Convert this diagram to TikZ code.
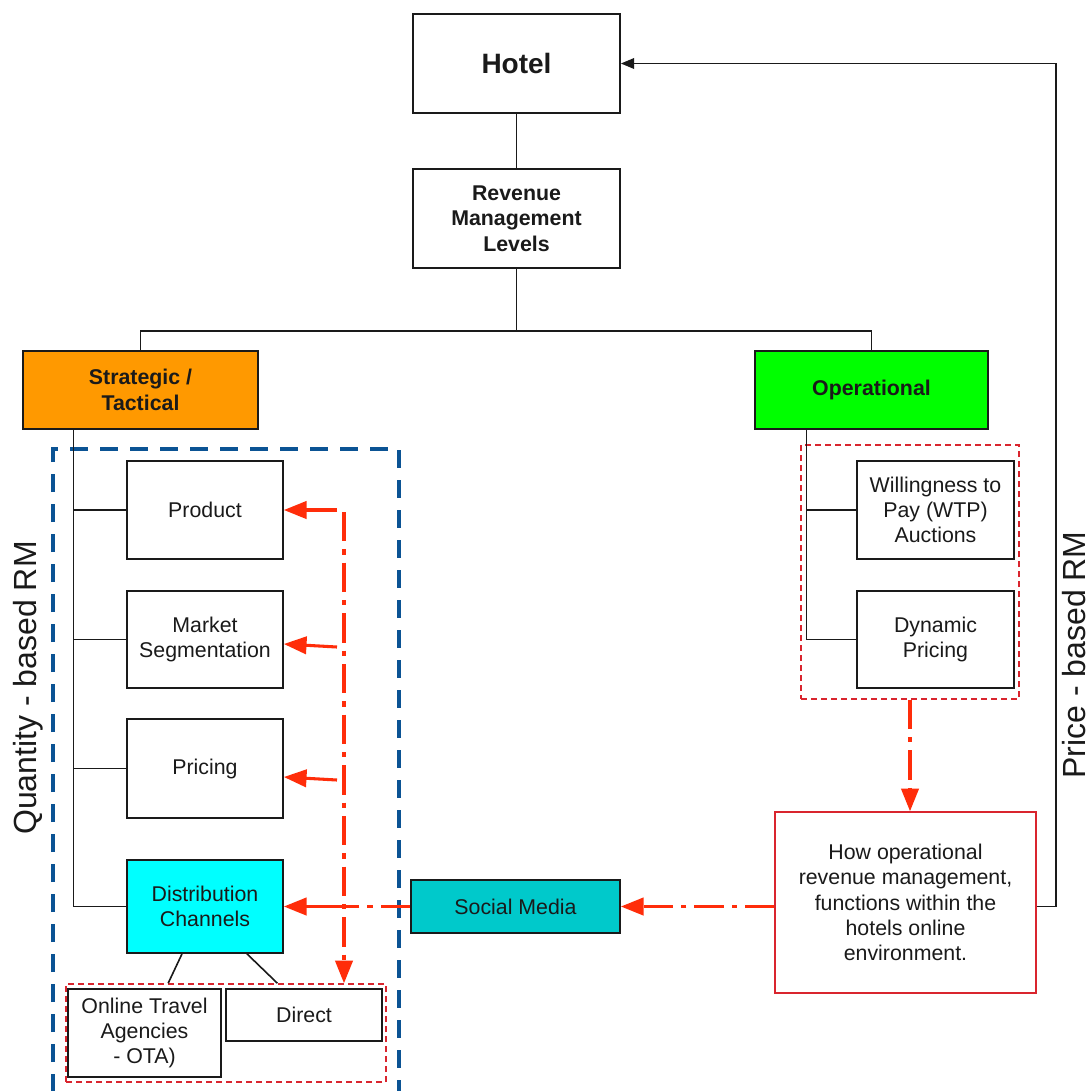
\documentclass[tikz,border=0pt]{standalone}
\usepackage{fontspec}
\setmainfont{Liberation Sans}
\usetikzlibrary{arrows.meta,calc}

\definecolor{ink}{HTML}{1A1A1A}
\definecolor{stratorange}{HTML}{FF9900}
\definecolor{opgreen}{HTML}{00FF00}
\definecolor{distcyan}{HTML}{00FFFF}
\definecolor{socialteal}{HTML}{00C9CB}
\definecolor{flowred}{HTML}{FF2D0A}
\definecolor{groupred}{HTML}{D9252E}
\definecolor{quantblue}{HTML}{0B5394}

\tikzset{
  box/.style={draw=ink, line width=1.3pt, align=center, inner sep=2pt, text=ink,
    font=\fontsize{16}{19}\selectfont},
  boldbox/.style={box, font=\fontsize{16}{19}\selectfont\bfseries},
  groupbox/.style={draw=groupred, line width=1.1pt, dash pattern=on 4.5pt off 3pt},
  link/.style={draw=ink, line width=1.2pt},
  flow/.style={draw=flowred, line width=2.3pt, -{Triangle[length=17pt,width=13pt]}},
  flowdd/.style={draw=flowred, line width=2.3pt,
    dash pattern=on 22pt off 6pt on 4pt off 6pt},
  sidelabel/.style={rotate=90, text=ink, inner sep=0pt, font=\fontsize{24}{28}\selectfont}
}

\begin{document}
\begin{tikzpicture}[x=0.75pt,y=-0.75pt]
\useasboundingbox (0,0) rectangle (1091,1090);
\fill[white] (0,0) rectangle (1091,1090);

% grouping frames
\node[groupbox, minimum width=163.5pt, minimum height=190.5pt] (opgroup) at (910,572) {};
\node[groupbox, minimum width=240pt, minimum height=73.5pt] (channels) at (226,1033) {};
\draw[quantblue, line width=2.6pt, dash pattern=on 13.5pt off 9pt]
  (53,1092) -- (53,449) -- (399,449) -- (399,1092);

% top of the hierarchy
\node[boldbox, minimum width=155.25pt, minimum height=74.25pt,
  font=\fontsize{21}{25}\selectfont\bfseries] (hotel) at (516.5,63.5) {Hotel};
\node[boldbox, minimum width=155.25pt, minimum height=74.25pt] (rml) at (516.5,218.5)
  {Revenue\\Management\\Levels};
\node[boldbox, fill=stratorange, minimum width=176.25pt, minimum height=58.5pt] (strat)
  at (140.5,390) {Strategic /\\Tactical};
\node[boldbox, fill=opgreen, minimum width=174.75pt, minimum height=58.5pt] (oper)
  at (871.5,390) {Operational};

% strategic / tactical branch
\node[box, minimum width=117pt, minimum height=73.5pt] (product) at (205,510) {Product};
\node[box, minimum width=117pt, minimum height=73pt] (market) at (205,639.5) {Market\\Segmentation};
\node[box, minimum width=117pt, minimum height=74pt] (pricing) at (205,768.5) {Pricing};
\node[box, fill=distcyan, minimum width=117pt, minimum height=69.75pt] (dist) at (205,906.5)
  {Distribution\\Channels};
\node[box, minimum width=114.75pt, minimum height=66pt] (ota) at (144.5,1033)
  {Online Travel\\Agencies\\- OTA)};
\node[box, minimum width=117pt, minimum height=39pt] (direct) at (304,1015) {Direct};

% operational branch
\node[box, minimum width=117.75pt, minimum height=73.5pt] (wtp) at (935.5,510)
  {Willingness to\\Pay (WTP)\\Auctions};
\node[box, minimum width=117.75pt, minimum height=72.75pt] (dyn) at (935.5,639.5)
  {Dynamic\\Pricing};
\node[box, draw=groupred, line width=1.1pt, minimum width=195.75pt, minimum height=135.75pt]
  (how) at (905.5,902.5)
  {How operational\\revenue management,\\functions within the\\hotels online\\environment.};
\node[box, fill=socialteal, minimum width=156.75pt, minimum height=39.75pt] (social)
  at (515.5,906.5) {Social Media};

% side labels
\node[sidelabel] (quant) at (28,688) {Quantity - based RM};
\node[sidelabel] (price) at (1074,655) {Price - based RM};

% hierarchy connectors
\coordinate (fork) at (516.5,331);
\draw[link] (hotel.south) -- (rml.north);
\draw[link] (rml.south) -- (fork);
\draw[link] (strat.north) |- (fork) -| (oper.north);

\coordinate (sTop) at ($(strat.south west)!0.217!(strat.south east)$);
\draw[link] (sTop) |- (dist.west);
\foreach \n in {product,market,pricing}
  \draw[link] (sTop |- \n.west) -- (\n.west);

\coordinate (oTop) at ($(oper.south west)!0.223!(oper.south east)$);
\draw[link] (oTop) |- (dyn.west);
\draw[link] (oTop |- wtp.west) -- (wtp.west);

\draw[link] ($(dist.south)+(-23,0)$) -- ($(channels.north west)!0.32!(channels.north east)$);
\draw[link] ($(dist.south)+(42,0)$) -- ($(channels.north west)!0.66!(channels.north east)$);

% price-based feedback to the hotel
\coordinate (ret) at (1056,63.5);
\draw[link, -{Triangle[length=10pt,width=8pt]}] (how.east |- social.east) -| (ret) -- (hotel.east);

% red information flows
\coordinate (spine) at (344,512);
\draw[flowdd, -{Triangle[length=17pt,width=13pt]}] (spine) -- (spine |- channels.north);
\coordinate (fp) at (337,510);
\coordinate (fm) at (337,647);
\coordinate (fr) at (337,780);
\coordinate (fd) at (337,906.5);
\draw[flow] (fp) -- (product.east);
\draw[flow] (fm) -- ($(market.east)+(0,4.5)$);
\draw[flow] (fr) -- ($(pricing.east)+(0,8.5)$);
\draw[flowdd] (social.west) -- (fd);
\draw[flow] (fd) -- (dist.east);
\draw[flowdd, -{Triangle[length=17pt,width=13pt]}] (how.west |- social.east) -- (social.east);
\draw[flowdd, -{Triangle[length=17pt,width=13pt]}] (opgroup.south) -- (opgroup.south |- how.north);
\end{tikzpicture}
\end{document}
